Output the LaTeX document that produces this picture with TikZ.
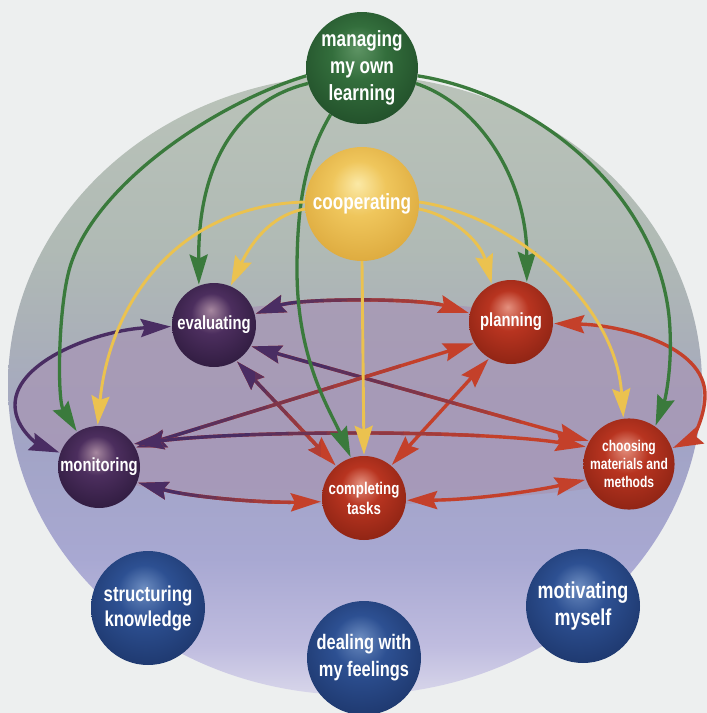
\documentclass[tikz,border=0pt]{standalone}
\usepackage{fontspec}
\setmainfont{Liberation Sans}
\newfontfamily\nodefam{Liberation Sans}[FakeStretch=0.78]
\usetikzlibrary{arrows.meta}

% page and globe
\definecolor{paper}{HTML}{EDEFEF}
\definecolor{s0}{HTML}{D8D6EA}
\definecolor{s1}{HTML}{BFBCDF}
\definecolor{s2}{HTML}{A8A8D2}
\definecolor{s3}{HTML}{A2A4C6}
\definecolor{s4}{HTML}{AAB0B8}
\definecolor{s5}{HTML}{B0BAB5}
\definecolor{s6}{HTML}{BAC3B9}
\definecolor{discc}{HTML}{A797B5}
% spheres: highlight / body / shadow
\definecolor{gA}{HTML}{5E9464}\definecolor{gB}{HTML}{336E3C}\definecolor{gC}{HTML}{22502A}
\definecolor{yA}{HTML}{FBE9A6}\definecolor{yB}{HTML}{EFC65C}\definecolor{yC}{HTML}{DDAA3E}
\definecolor{pA}{HTML}{A6879F}\definecolor{pB}{HTML}{4C2E5E}\definecolor{pC}{HTML}{301C40}
\definecolor{rA}{HTML}{E4907E}\definecolor{rB}{HTML}{B83420}\definecolor{rC}{HTML}{8E2414}
\definecolor{bA}{HTML}{6C8CC0}\definecolor{bB}{HTML}{2D5092}\definecolor{bC}{HTML}{1E386E}
% connector colours
\definecolor{lnG}{HTML}{3A7A3C}
\definecolor{lnY}{HTML}{EBC24F}
\definecolor{lnP}{HTML}{4A2D63}
\definecolor{lnR}{HTML}{C4402A}

\pgfdeclareverticalshading{globe}{100bp}{color(0bp)=(s0); color(25bp)=(s0); color(29bp)=(s1);
  color(36bp)=(s2); color(45bp)=(s3); color(54bp)=(s4); color(61bp)=(s5); color(75bp)=(s6); color(100bp)=(s6)}
\pgfdeclareradialshading{gball}{\pgfpoint{-2bp}{9bp}}{color(0bp)=(gA); color(12bp)=(gB); color(30bp)=(gC); color(50bp)=(gC)}
\pgfdeclareradialshading{yball}{\pgfpoint{-2bp}{9bp}}{color(0bp)=(yA); color(12bp)=(yB); color(30bp)=(yC); color(50bp)=(yC)}
\pgfdeclareradialshading{pball}{\pgfpoint{-2bp}{9bp}}{color(0bp)=(pA); color(12bp)=(pB); color(30bp)=(pC); color(50bp)=(pC)}
\pgfdeclareradialshading{rball}{\pgfpoint{-2bp}{9bp}}{color(0bp)=(rA); color(12bp)=(rB); color(30bp)=(rC); color(50bp)=(rC)}
\pgfdeclareradialshading{bball}{\pgfpoint{-2bp}{9bp}}{color(0bp)=(bA); color(12bp)=(bB); color(30bp)=(bC); color(50bp)=(bC)}

\newcommand\nf[2]{\nodefam\bfseries\fontsize{#1}{#2}\selectfont}

% two-coloured double arrow: purple left of #2, red right of #3, blended between
\newcommand\duo[3]{%
  \draw[ring,lnR] #1;%
  \begin{scope}\clip (-20,-20) rectangle (#2,740);\draw[ring,lnP] #1;\end{scope}%
  \foreach \k in {1,...,6}{%
    \pgfmathsetmacro\xa{#2+(#3-#2)*(\k-1)/6}%
    \pgfmathsetmacro\xb{#2+(#3-#2)*\k/6+0.6}%
    \pgfmathtruncatemacro\mix{100-\k*100/7}%
    \begin{scope}\clip (\xa,-20) rectangle (\xb,740);\draw[ring,lnP!\mix!lnR] #1;\end{scope}%
  }%
}

\pgfdeclarelayer{back}
\pgfdeclarelayer{lines}
\pgfsetlayers{back,lines,main}

\begin{document}
\begin{tikzpicture}[x=1pt,y=-1pt,
  ball/.style={circle, inner sep=0pt, shade, text=white, align=center},
  gline/.style={draw=lnG, line width=3.3pt, -{Stealth[length=30pt,width=18pt,inset=4pt]}, shorten >=1pt},
  yline/.style={draw=lnY, line width=2.9pt, -{Stealth[length=29pt,width=18pt,inset=4pt]}, shorten >=1pt},
  ring/.style={line width=3.4pt, {Stealth[length=30pt,width=18pt,inset=4pt]}-{Stealth[length=30pt,width=18pt,inset=4pt]}, shorten >=1pt, shorten <=1pt}]

\useasboundingbox (0,0) rectangle (707,713);

\begin{pgfonlayer}{back}
  \fill[paper] (0,0) rectangle (707,713);
  \shade[shading=globe] (355,385) ellipse [x radius=347, y radius=310];
  % the flat disc enclosed by the ring of activities
  \fill[discc, opacity=0.8] (214,312) .. controls (300,298) and (420,298) .. (511,312)
     -- (553,323) .. controls (620,325) and (705,345) .. (705,395)
     .. controls (705,420) and (690,440) .. (668,450)
     .. controls (650,480) and (600,488) .. (560,492)
     .. controls (500,498) and (420,505) .. (364,505)
     .. controls (280,505) and (200,496) .. (140,486)
     .. controls (100,480) and (70,465) .. (60,453)
     .. controls (40,445) and (15,430) .. (15,405)
     .. controls (15,360) and (100,330) .. (172,326) -- cycle;
\end{pgfonlayer}

% spheres
\node[ball, minimum size=112pt, shading=gball, font=\nf{22}{27}] (man) at (362,68) {managing\\my own\\learning};
\node[ball, minimum size=114pt, shading=yball, font=\nf{22}{26}] (coop) at (362,204) {cooperating};
\node[ball, minimum size=84pt, shading=pball, font=\nf{19}{22}] (ev) at (214,325) {evaluating};
\node[ball, minimum size=84pt, shading=rball, font=\nf{19}{22}] (pl) at (511,322) {planning};
\node[ball, minimum size=82pt, shading=pball, font=\nf{19}{22}] (mon) at (99,467) {monitoring};
\node[ball, minimum size=84pt, shading=rball, font=\nf{17}{20}] (comp) at (364,498) {completing\\tasks};
\node[ball, minimum size=84pt, shading=rball, font=\nf{15.5}{18}] (cho) at (629,464) {choosing\\materials and\\methods};
\node[ball, minimum size=114pt, shading=bball, font=\nf{21.5}{25}] (str) at (148,608) {structuring\\knowledge};
\node[ball, minimum size=114pt, shading=bball, font=\nf{21}{27}] (deal) at (364,658) {dealing with\\my feelings};
\node[ball, minimum size=114pt, shading=bball, font=\nf{23}{27}] (mot) at (583,606) {motivating\\myself};

\begin{pgfonlayer}{lines}
  % the ring of activities
  \draw[ring,lnP] (ev.182) .. controls (100,330) and (15,360) .. (15,405)
                  .. controls (15,430) and (40,445) .. (mon.160);
  \draw[ring,lnR] (pl.-2) .. controls (620,325) and (705,345) .. (705,395)
                  .. controls (705,420) and (690,440) .. (cho.20);
  \draw[ring,lnR] (pl.-121) -- (comp.50);
  \draw[ring,lnR] (comp.-3) .. controls (470,500) and (530,492) .. (cho.200);
  \duo{(ev.15) .. controls (300,298) and (420,298) .. (pl.168)}{300}{440}
  \duo{(ev.-58) -- (comp.131)}{255}{320}
  \duo{(ev.-30) -- (cho.150)}{330}{520}
  \duo{(mon.28) -- (pl.210)}{200}{400}
  \duo{(mon.34) .. controls (250,430) and (480,430) .. (cho.158)}{250}{480}
  \duo{(mon.-22) .. controls (190,497) and (260,503) .. (comp.185)}{180}{290}

  % managing my own learning
  \draw[gline] (man.188) .. controls (216,103) and (95,184) .. (70,267)
               .. controls (58,307) and (57,400) .. (mon.122);
  \draw[gline] (man.196) .. controls (240,100) and (198,160) .. (ev.111);
  \draw[gline] (man.236) .. controls (310,150) and (297,190) .. (297,270)
               .. controls (297,360) and (330,410) .. (comp.108);
  \draw[gline] (man.-16) .. controls (480,105) and (527,180) .. (pl.68);
  \draw[gline] (man.-8) .. controls (540,95) and (665,200) .. (670,330)
               .. controls (672,370) and (665,400) .. (cho.55);

  % cooperating
  \draw[yline] (coop.178) .. controls (180,205) and (110,300) .. (mon.92);
  \draw[yline] (coop.185) .. controls (270,215) and (250,245) .. (ev.67);
  \draw[yline] (coop.south) -- (comp.north);
  \draw[yline] (coop.-5) .. controls (450,215) and (480,240) .. (pl.117);
  \draw[yline] (coop.2) .. controls (510,215) and (615,300) .. (cho.97);
\end{pgfonlayer}
\end{tikzpicture}
\end{document}
